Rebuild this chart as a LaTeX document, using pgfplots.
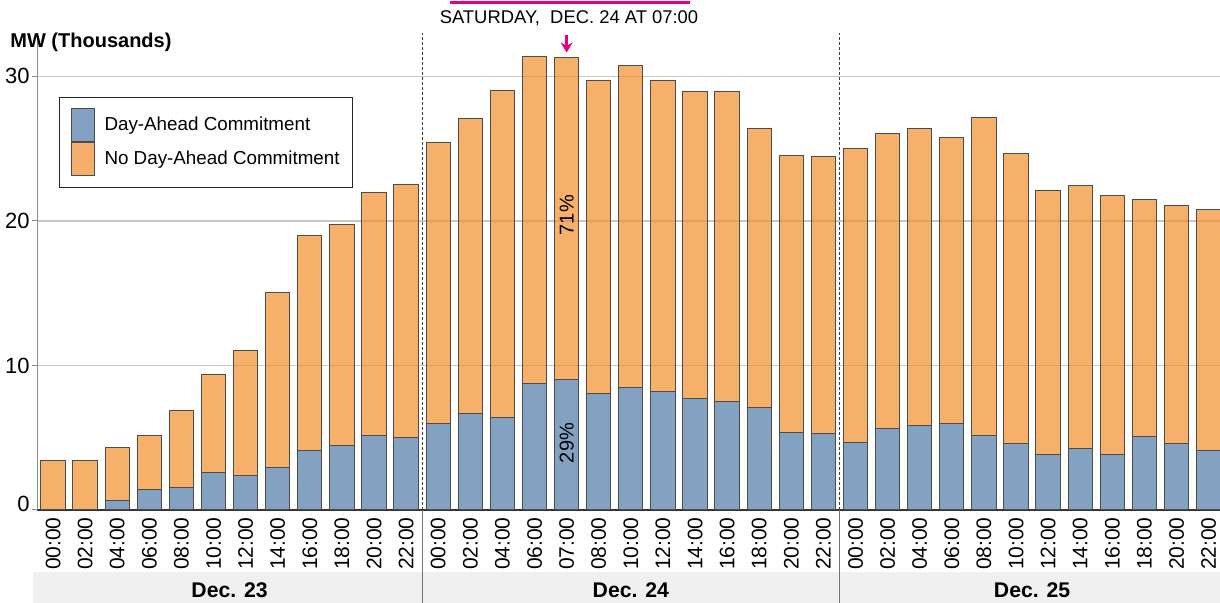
\documentclass[border=0pt]{standalone}
\usepackage{pgfplots}
\pgfplotsset{compat=1.18}
\usepackage{pgfplotstable}
\usetikzlibrary{arrows.meta}
\usepackage{fontspec}
\setmainfont{Liberation Sans}
\definecolor{tblue}{RGB}{78,121,167}
\definecolor{torange}{RGB}{242,142,43}
\definecolor{hotmag}{RGB}{230,0,126}
\definecolor{bandgray}{RGB}{240,240,240}

\pgfplotstableread{
x blue orange
0 0 3.39
1 0 3.39
2 0.69 3.64
3 1.43 3.71
4 1.57 5.34
5 2.58 6.77
6 2.37 8.64
7 2.93 12.14
8 4.15 14.81
9 4.49 15.23
10 5.16 16.82
11 5.02 17.53
12 6.01 19.42
13 6.68 20.39
14 6.41 22.62
15 8.76 22.64
16 9.05 22.26
17 8.04 21.70
18 8.50 22.25
19 8.22 21.52
20 7.72 21.21
21 7.51 21.42
22 7.07 19.31
23 5.34 19.19
24 5.27 19.19
25 4.65 20.37
26 5.64 20.44
27 5.83 20.59
28 5.97 19.81
29 5.14 22.00
30 4.60 20.03
31 3.83 18.24
32 4.24 18.20
33 3.83 17.94
34 5.11 16.36
35 4.60 16.47
36 4.13 16.65
}\data

\begin{document}
\begin{tikzpicture}
\useasboundingbox (0pt,0pt) rectangle (610pt,301.5pt);
\coordinate (o) at (0pt,0pt);
\coordinate (dl) at (0pt,6.5pt);
\fill[bandgray] (16.5pt,0pt) rectangle (610pt,15.6pt);
\begin{axis}[
  at={(18.5pt,46.5pt)}, anchor=south west,
  scale only axis, width=591.5pt, height=238.5pt,
  xmin=-0.5, xmax=36.355, ymin=0, ymax=33,
  ybar stacked, bar width=12.15pt,
  axis lines*=left,
  x axis line style={black!80, line width=0.6pt},
  y axis line style={black!45, line width=0.5pt},
  xtick={0,...,36},
  xticklabels={00:00,02:00,04:00,06:00,08:00,10:00,12:00,14:00,16:00,18:00,20:00,22:00,
               00:00,02:00,04:00,06:00,07:00,08:00,10:00,12:00,14:00,16:00,18:00,20:00,22:00,
               00:00,02:00,04:00,06:00,08:00,10:00,12:00,14:00,16:00,18:00,20:00,22:00},
  xticklabel style={rotate=90, anchor=east, inner sep=1pt, font=\fontsize{10.5}{12}\selectfont},
  xtick style={draw=none},
  ytick={0,10,20,30},
  yticklabels={\raisebox{6.5pt}{0},10,20,30},
  yticklabel style={font=\fontsize{11}{13}\selectfont, inner sep=1pt},
  ytick style={black!45, line width=0.5pt},
  tick align=outside, major tick length=2.5pt,
  ymajorgrids, grid style={black!22, line width=0.7pt},
  clip=false,
  legend style={at={(0.0186,0.866)}, anchor=north west, draw=black!85, line width=0.5pt,
    font=\fontsize{9.4}{11}\selectfont, inner xsep=5.5pt, inner ysep=5.5pt, row sep=0pt,
    nodes={inner sep=1pt}},
  legend cell align=left,
]
\addplot[fill=tblue, fill opacity=0.7, draw=black!70, line width=0.5pt,
  legend image code/.code={\draw[fill=tblue, draw=black!70, line width=0.5pt] (0pt,-8.25pt) rectangle (11.5pt,8.25pt); \path (15.5pt,0pt);}]
  table[x=x, y=blue] {\data};
\addlegendentry{Day-Ahead Commitment\hspace{4pt}}
\addplot[fill=torange, fill opacity=0.7, draw=black!70, line width=0.5pt,
  legend image code/.code={\draw[fill=torange, draw=black!70, line width=0.5pt] (0pt,-8.25pt) rectangle (11.5pt,8.25pt); \path (15.5pt,0pt);}]
  table[x=x, y=orange] {\data};
\addlegendentry{No Day-Ahead Commitment\hspace{4pt}}
\draw[black!75, line width=0.6pt, dash pattern=on 1.5pt off 1pt] (axis cs:11.5,0) -- (axis cs:11.5,33);
\draw[black!75, line width=0.6pt, dash pattern=on 1.5pt off 1pt] (axis cs:24.5,0) -- (axis cs:24.5,33);
\coordinate (s1) at (axis cs:11.5,0);
\coordinate (s2) at (axis cs:24.5,0);
\coordinate (d1) at (axis cs:5.5,0);
\coordinate (d2) at (axis cs:18,0);
\coordinate (d3) at (axis cs:30.5,0);
\coordinate (p1) at (axis cs:16,4.63);
\coordinate (p2) at (axis cs:16,20.4);
\coordinate (a1) at (axis cs:16,32.85);
\coordinate (a2) at (axis cs:16,31.65);
\end{axis}
\node[rotate=90, text=black, font=\fontsize{10}{12}\selectfont] at (p1) {29\%};
\node[rotate=90, text=black, font=\fontsize{10}{12}\selectfont] at (p2) {71\%};
\draw[hotmag, line width=1.3pt, -{Stealth[length=5pt,width=6pt]}] (a1) -- (a2);
\draw[black!55, line width=0.5pt] (s1) -- (s1 |- o);
\draw[black!55, line width=0.5pt] (s2) -- (s2 |- o);
\node[font=\bfseries\fontsize{10.6}{12}\selectfont] at (d1 |- dl) {Dec. 23};
\node[font=\bfseries\fontsize{10.6}{12}\selectfont] at (d2 |- dl) {Dec. 24};
\node[font=\bfseries\fontsize{10.6}{12}\selectfont] at (d3 |- dl) {Dec. 25};
\node[anchor=west, font=\bfseries\fontsize{10}{12}\selectfont, inner sep=0pt] at (5pt,280.5pt) {MW (Thousands)};
\node[font=\fontsize{9.2}{11}\selectfont] at (284.5pt,292.5pt) {SATURDAY,\ \ DEC. 24 AT 07:00};
\draw[hotmag, line width=1.5pt] (225pt,300pt) -- (345pt,300pt);
\end{tikzpicture}
\end{document}
